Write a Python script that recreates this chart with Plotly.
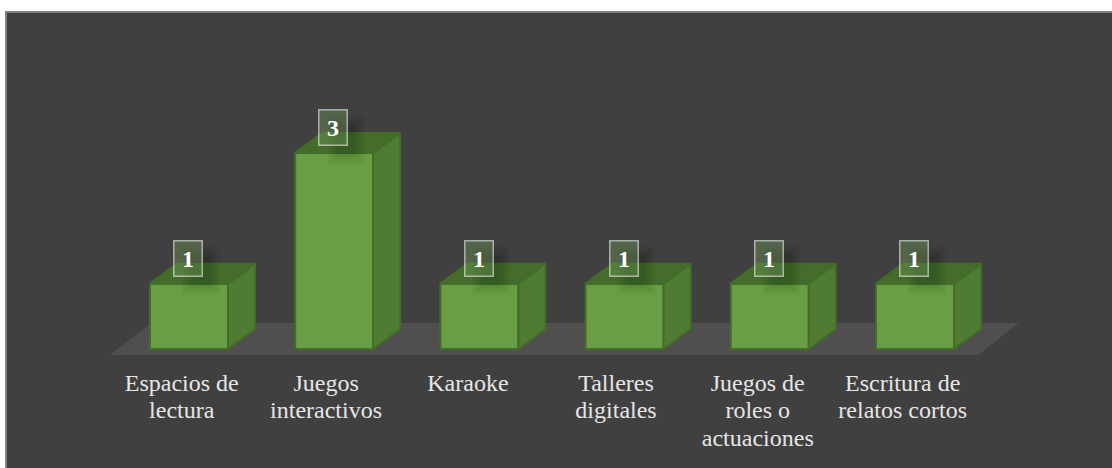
import plotly.graph_objects as go

categories = ["Espacios de<br>lectura", "Juegos<br>interactivos", "Karaoke", "Talleres<br>digitales", "Juegos de<br>roles o<br>actuaciones", "Escritura de<br>relatos cortos"]
values = [1, 3, 1, 1, 1, 1]
label_offsets = [-0.05, -0.056, -0.079, -0.059, -0.083, -0.085]

W, H = 1112, 468
PX_X, PX_Y = 145.2, 65.33
LEFT, TOP, BOTTOM = 6, 12, 355
X_ZERO, Y_ZERO = 189, 349
BAR_W = 78 / PX_X
DX, DY = 27 / PX_X, 20 / PX_Y
FACE, SIDE, TOPC, EDGE = "#699e44", "#507b33", "#456c2a", "#426e29"

xs = list(range(len(values)))
fig = go.Figure()
fig.add_trace(go.Bar(x=xs, y=values, width=BAR_W, marker=dict(color=FACE, line=dict(color=EDGE, width=2)), hoverinfo="skip"))

def poly(px, py, fill, line=None):
    fig.add_trace(go.Scatter(x=px + px[:1], y=py + py[:1], mode="lines", fill="toself", fillcolor=fill,
                             line=dict(color=line or "rgba(0,0,0,0)", width=2 if line else 0), hoverinfo="skip"))

for x, v in zip(xs, values):
    l, r = x - BAR_W / 2, x + BAR_W / 2
    poly([r, r + DX, r + DX, r], [0, DY, v + DY, v], SIDE, EDGE)
    poly([l, r, r + DX, l + DX], [v, v, v + DY, v + DY], TOPC, EDGE)
    # soft shadow behind the value label
    for k in range(8):
        g = k * 1.6
        cx0 = x + (-7 + g) / PX_X
        cx1 = x + (31 - g) / PX_X
        cy0 = v + (-11 + g) / PX_Y
        cy1 = v + (38 - g) / PX_Y
        poly([cx0, cx1, cx1, cx0], [cy0, cy0, cy1, cy1], "rgba(0,0,0,0.021)")

for x, v in zip(xs, values):
    fig.add_annotation(x=x, y=v, xref="x", yref="y", xshift=-0.8, yshift=25.5, text=f"<b>{v}</b>", showarrow=False,
                       font=dict(family="Liberation Serif", size=24, color="white"),
                       width=27, height=34, bgcolor="rgba(110,150,90,0.42)", bordercolor="rgba(255,255,255,0.55)",
                       borderwidth=1.5, borderpad=0, align="center", valign="middle")

fl, fr = (110 - X_ZERO) / PX_X, (978 - X_ZERO) / PX_X
fd = 41 / PX_X
fb, ft = (Y_ZERO - 355) / PX_Y, (Y_ZERO - 323) / PX_Y

fig.update_layout(
    width=W, height=H, margin=dict(l=0, r=0, t=0, b=0), showlegend=False,
    paper_bgcolor="white", plot_bgcolor="rgba(0,0,0,0)",
    xaxis=dict(domain=[LEFT / W, 1], range=[(LEFT - X_ZERO) / PX_X, (W - X_ZERO) / PX_X],
               tickmode="array", tickvals=[x + o for x, o in zip(xs, label_offsets)], ticktext=categories,
               tickfont=dict(family="Liberation Serif", size=24, color="#e6e6e6"),
               ticks="outside", ticklen=6, tickcolor="rgba(0,0,0,0)", showgrid=False, zeroline=False, showline=False),
    yaxis=dict(domain=[1 - BOTTOM / H, 1 - TOP / H], range=[(Y_ZERO - BOTTOM) / PX_Y, (Y_ZERO - TOP) / PX_Y],
               visible=False),
    shapes=[
        dict(type="rect", xref="paper", yref="paper", x0=LEFT / W, x1=1.01, y0=-0.01, y1=1 - TOP / H,
             fillcolor="#404040", line=dict(color="#7f7f7f", width=2), layer="below"),
        dict(type="path", xref="x", yref="y", layer="below", fillcolor="#504e4f", line=dict(width=0),
             path=f"M {fl} {fb} L {fr} {fb} L {fr + fd} {ft} L {fl + fd} {ft} Z"),
    ],
)
post = """
document.body.style.margin='0';document.body.style.overflow='hidden';
document.querySelectorAll('.xtick text').forEach(function(t){
  t.querySelectorAll('tspan.line').forEach(function(s,i){ s.setAttribute('dy', (i*1.14)+'em'); });
});
"""
fig.write_html("out.html", post_script=post, config={"displayModeBar": False})
